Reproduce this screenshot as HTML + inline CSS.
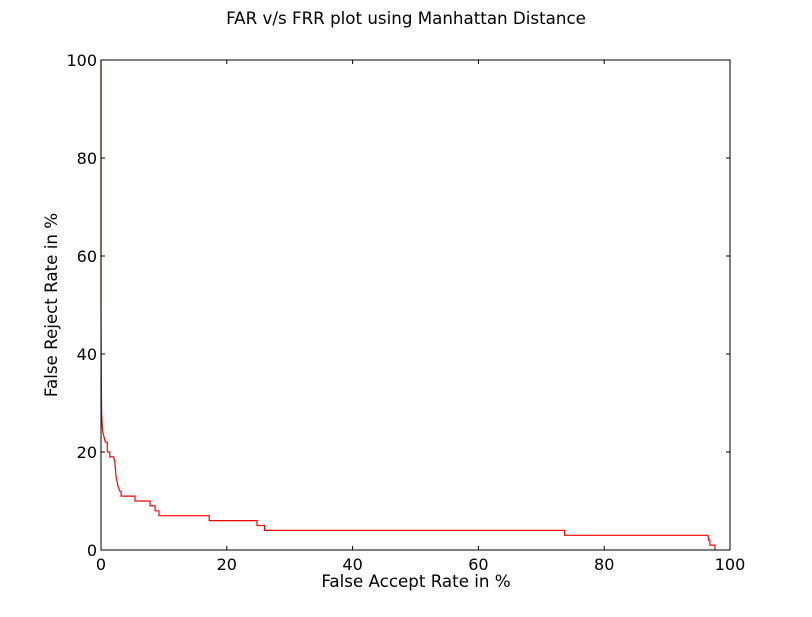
<!DOCTYPE html>
<html><head><meta charset="utf-8"><style>
body{margin:0;background:#fff;width:812px;height:612px;overflow:hidden}
svg text{font-family:"DejaVu Sans","Liberation Sans",sans-serif;fill:#000}
</style></head><body>
<svg id="chart" width="812" height="612" xmlns="http://www.w3.org/2000/svg">
<text x="406" y="24" font-size="16.7" text-anchor="middle">FAR v/s FRR plot using Manhattan Distance</text>
<text x="416" y="587" font-size="16.7" text-anchor="middle">False Accept Rate in %</text>
<text x="0" y="0" font-size="16.7" text-anchor="middle" transform="translate(57,305) rotate(-90)">False Reject Rate in %</text>
<g id="ticks"></g>
<path id="curve" fill="none" stroke="#ff0000" stroke-width="1.2"/>
<rect x="101" y="60" width="629" height="490" fill="none" stroke="#000" stroke-width="1"/>
</svg>
<script>
const xTicks=[0,20,40,60,80,100];
const yTicks=[0,20,40,60,80,100];
const far=[0,0,0.05,0.1,0.2,0.3,0.5,0.7,1.0,1.0,1.4,1.4,2.0,2.2,2.4,2.7,3.0,3.2,3.2,5.4,5.4,7.8,7.8,8.6,8.6,9.2,9.2,17.2,17.2,24.8,24.8,26.0,26.0,73.7,73.7,96.5,96.6,96.8,96.8,97.6,97.6];
const frr=[100,50,35,28,25,24,23,22,22,20,20,19,19,18,15,13,12,12,11,11,10,10,9,9,8,8,7,7,6,6,5,5,4,4,3,3,2,2,1,1,0];
const X0=101,X1=730,Y0=550,Y1=60;
const sx=v=>X0+(X1-X0)*v/100, sy=v=>Y0-(Y0-Y1)*v/100;
const ns="http://www.w3.org/2000/svg";
const g=document.getElementById('ticks');
function ln(x1,y1,x2,y2){const l=document.createElementNS(ns,'line');l.setAttribute('x1',x1);l.setAttribute('y1',y1);l.setAttribute('x2',x2);l.setAttribute('y2',y2);l.setAttribute('stroke','#000');g.appendChild(l);return l;}
xTicks.forEach(t=>{const x=sx(t);
 const a=ln(x,Y0,x,Y0-4);
 
 
 const b=ln(x,Y1,x,Y1+4);
 
 
 const tx=document.createElementNS(ns,'text');tx.setAttribute('x',x);tx.setAttribute('y',570);tx.setAttribute('font-size','16');tx.setAttribute('text-anchor','middle');tx.textContent=t;
 
 
 g.appendChild(tx);});
yTicks.forEach(t=>{const y=sy(t);
 const a=ln(X0,y,X0+4,y);
 
 
 const b=ln(X1,y,X1-4,y);
 
 
 const tx=document.createElementNS(ns,'text');tx.setAttribute('x',97);tx.setAttribute('y',y+6);tx.setAttribute('font-size','16');tx.setAttribute('text-anchor','end');tx.textContent=t;
 
 
 g.appendChild(tx);});
let d='';far.forEach((v,i)=>{d+=(i?'L':'M')+sx(v).toFixed(1)+','+sy(frr[i]).toFixed(1);});
document.getElementById('curve').setAttribute('d',d);
</script>
</body></html>
